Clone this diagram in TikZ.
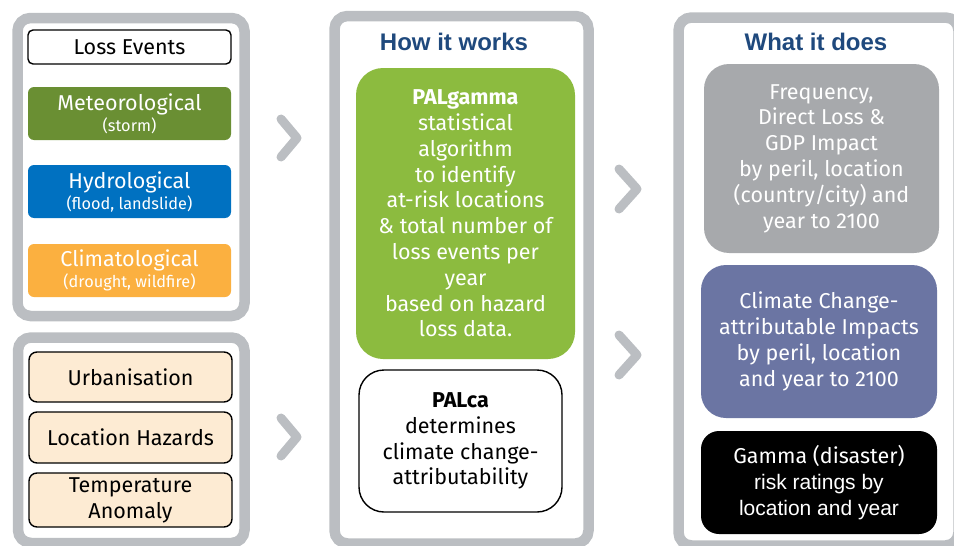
\documentclass[tikz,border=0pt]{standalone}
\usepackage{fontspec}
\setmainfont{Fira Sans}
\newfontfamily\arialfont{Liberation Sans}

\definecolor{panelgray}{RGB}{187,190,194}
\definecolor{meteogreen}{RGB}{106,143,51}
\definecolor{hydroblue}{RGB}{0,113,193}
\definecolor{climorange}{RGB}{251,176,64}
\definecolor{beige}{RGB}{253,235,211}
\definecolor{algogreen}{RGB}{140,187,63}
\definecolor{outgray}{RGB}{167,169,172}
\definecolor{outpurple}{RGB}{107,117,163}
\definecolor{titleblue}{RGB}{31,73,125}

\tikzset{
    panel/.style={draw=panelgray, line width=10.5pt, rounded corners=13pt},
    chevron/.style={draw=panelgray, line width=9pt, line cap=round, line join=round},
    box/.style={align=center, inner sep=0pt, font=\fontsize{21.5}{25.8}\selectfont},
    eventbox/.style={box, minimum width=203pt, minimum height=53pt, rounded corners=6pt, text=white, font=\fontsize{21.5}{20}\selectfont},
    driverbox/.style={box, draw=black, line width=1.4pt, fill=beige, minimum width=203pt, rounded corners=8pt},
    outbox/.style={box, text=white, rounded corners=25pt},
    heading/.style={font=\arialfont\bfseries\fontsize{24}{26}\selectfont, text=titleblue}
}

\begin{document}
\begin{tikzpicture}[x=1pt, y=-1pt]
    \useasboundingbox (0,0) rectangle (954,546);

    \draw[panel] (17.5,18) rectangle (244.5,316);
    \draw[panel] (18,337.5) rectangle (244.5,543);
    \draw[panel] (334.5,16) rectangle (588.5,543.5);
    \draw[panel] (678.5,17.5) rectangle (958.5,545.5);

    \node[box, draw=black, line width=1.4pt, minimum width=203pt, minimum height=34pt, rounded corners=5pt] (lossev) at (129.5,47) {Loss Events};
    \node[eventbox, fill=meteogreen] (meteo) at (129.5,113.5) {Meteorological\\[1pt]{\fontsize{16.3}{18}\selectfont (storm)}};
    \node[eventbox, fill=hydroblue] (hydro) at (129.5,191.5) {Hydrological\\[1pt]{\fontsize{16.3}{18}\selectfont (flood, landslide)}};
    \node[eventbox, fill=climorange] (clim) at (129.5,270.5) {Climatological\\[1pt]{\fontsize{16.3}{18}\selectfont (drought, wildfire)}};

    \node[driverbox, minimum height=50pt] (urban) at (130.5,377) {Urbanisation};
    \node[driverbox, minimum height=51pt] (lochaz) at (130.5,437.5) {Location Hazards};
    \node[driverbox, minimum height=54pt] (temp) at (130.5,500) {Temperature\\Anomaly};

    \node[heading] (how) at (454,42) {How it works};
    \node[box, fill=algogreen, text=white, minimum width=219pt, minimum height=291pt, rounded corners=27pt] (palgamma) at (465.5,213.5)
        {\textbf{PALgamma}\\statistical\\algorithm\\to identify\\at-risk locations\\\& total number of\\loss events per\\year\\based on hazard\\loss data.};
    \node[box, draw=black, line width=1.4pt, minimum width=203pt, minimum height=142pt, rounded corners=25pt] (palca) at (460.5,441)
        {\textbf{PALca}\\determines\\climate change-\\attributability};

    \node[heading] (what) at (816,42) {What it does};
    \node[outbox, fill=outgray, minimum width=235pt, minimum height=189pt] (freq) at (821.5,158.5)
        {Frequency,\\Direct Loss \&\\GDP Impact\\by peril, location\\(country/city) and\\year to 2100};
    \node[outbox, fill=outpurple, minimum width=236pt, minimum height=153pt] (ccimp) at (819,341.5)
        {Climate Change-\\attributable Impacts\\by peril, location\\and year to 2100};
    \node[outbox, fill=black, minimum width=236pt, minimum height=103pt, rounded corners=18pt] (gamma) at (819,482.5)
        {Gamma (disaster)\\{\arialfont\fontsize{21}{25.8}\selectfont risk ratings by}\\{\arialfont\fontsize{21}{25.8}\selectfont location and year}};

    \draw[chevron] (281,119) -- (297,138) -- (281,157);
    \draw[chevron] (281,418) -- (297,437) -- (281,456);
    \draw[chevron] (619,169) -- (637,189) -- (619,209);
    \draw[chevron] (619,335) -- (637,355) -- (619,375);
\end{tikzpicture}
\end{document}
